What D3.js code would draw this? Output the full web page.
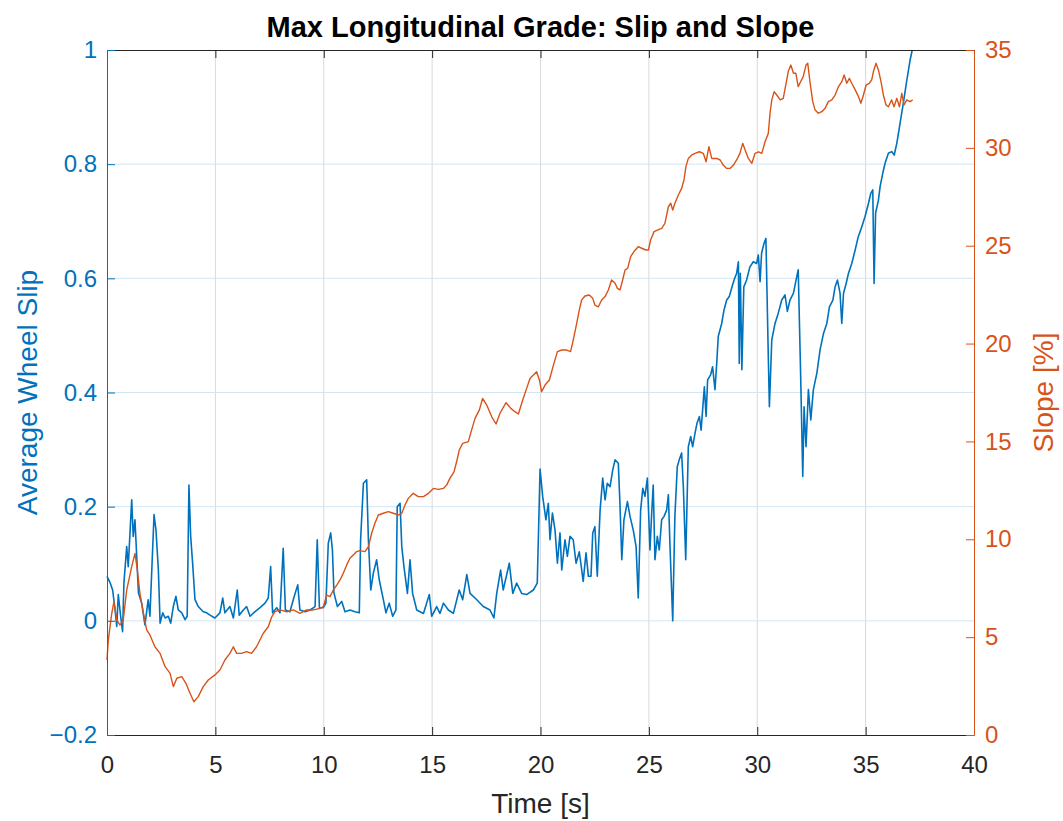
<!DOCTYPE html>
<html>
<head>
<meta charset="utf-8">
<script src="https://cdn.jsdelivr.net/npm/d3@7"></script>
<style>
  body { margin: 0; background: #fff; }
  svg { display: block; font-family: "Liberation Sans", Arial, Helvetica, sans-serif; }
</style>
</head>
<body>
<svg id="chart" width="1063" height="821"></svg>
<script>
// Average wheel slip over time (left axis)
const slipTime = [
  0.00,0.14,0.26,0.37,0.45,0.52,0.63,0.72,0.78,0.91,0.98,1.14,1.21,1.29,1.37,1.45,1.60,1.75,1.90,1.98,
  2.17,2.26,2.37,2.45,2.57,2.68,2.83,2.94,3.06,3.18,3.29,3.45,3.60,3.70,3.78,3.86,3.95,4.06,4.21,4.44,
  4.60,4.75,4.98,5.21,5.34,5.44,5.67,5.83,6.01,6.10,6.29,6.44,6.60,6.83,7.06,7.29,7.44,7.55,7.64,7.83,
  7.98,8.13,8.23,8.44,8.64,8.80,8.90,9.14,9.37,9.60,9.70,9.80,9.98,10.10,10.21,10.32,10.40,10.47,10.63,10.83,
  10.98,11.21,11.44,11.64,11.70,11.83,11.98,12.06,12.17,12.29,12.44,12.56,12.75,12.87,13.02,13.18,13.33,13.39,13.52,13.60,
  13.70,13.86,13.98,14.10,14.29,14.60,14.87,14.98,15.21,15.36,15.52,15.75,15.98,16.25,16.41,16.60,16.75,17.06,17.36,17.67,
  17.85,17.98,18.16,18.28,18.56,18.72,18.90,19.13,19.36,19.67,19.85,19.98,20.10,20.25,20.36,20.44,20.55,20.67,20.78,20.90,
  20.98,21.13,21.24,21.36,21.51,21.64,21.79,21.97,22.10,22.21,22.33,22.41,22.51,22.62,22.75,22.87,22.98,23.08,23.21,23.33,
  23.44,23.59,23.67,23.75,23.85,24.01,24.13,24.28,24.41,24.51,24.62,24.72,24.82,24.93,25.05,25.13,25.20,25.28,25.39,25.48,
  25.59,25.70,25.82,25.90,25.97,26.10,26.20,26.31,26.40,26.51,26.59,26.70,26.82,26.93,27.02,27.13,27.22,27.33,27.41,27.48,
  27.56,27.64,27.71,27.85,27.94,28.05,28.13,28.20,28.36,28.47,28.59,28.71,28.82,28.93,29.05,29.13,29.17,29.22,29.29,29.38,
  29.51,29.66,29.82,29.97,30.05,30.13,30.20,30.31,30.40,30.51,30.56,30.67,30.82,30.97,31.13,31.28,31.39,31.51,31.67,31.79,
  31.89,32.00,32.10,32.16,32.25,32.36,32.47,32.59,32.75,32.90,33.06,33.21,33.33,33.49,33.59,33.70,33.82,33.90,33.98,34.10,
  34.21,34.36,34.52,34.66,34.82,34.97,35.13,35.24,35.33,35.39,35.46,35.59,35.67,35.79,35.90,36.05,36.20,36.32,36.44,36.59,
  36.74,36.90,37.05,37.15
];
const slipValues = [
  0.078,0.067,0.054,0.020,-0.010,0.046,0.008,-0.019,0.066,0.130,0.095,0.212,0.148,0.177,0.113,0.049,0.031,-0.007,0.037,0.008,
  0.186,0.159,0.089,-0.004,0.014,0.005,0.008,-0.004,0.025,0.043,0.019,0.014,0.002,0.008,0.238,0.148,0.101,0.037,0.025,0.016,
  0.014,0.010,0.005,0.014,0.040,0.014,0.025,0.005,0.054,0.010,0.019,0.025,0.008,0.016,0.023,0.031,0.040,0.095,0.014,0.023,
  0.014,0.127,0.019,0.016,0.043,0.063,0.019,0.016,0.019,0.025,0.142,0.023,0.023,0.031,0.136,0.154,0.124,0.049,0.025,0.034,
  0.016,0.019,0.016,0.014,0.142,0.241,0.247,0.142,0.054,0.084,0.107,0.072,0.037,0.014,0.031,0.008,0.019,0.200,0.206,0.130,
  0.095,0.048,0.107,0.048,0.019,0.013,0.046,0.008,0.025,0.013,0.031,0.019,0.013,0.054,0.037,0.081,0.048,0.037,0.025,0.019,
  0.005,0.048,0.089,0.054,0.101,0.048,0.066,0.048,0.046,0.054,0.066,0.266,0.218,0.177,0.206,0.142,0.189,0.159,0.101,0.154,
  0.089,0.142,0.113,0.148,0.142,0.101,0.121,0.069,0.119,0.078,0.078,0.154,0.165,0.078,0.194,0.250,0.212,0.241,0.235,0.264,
  0.282,0.276,0.200,0.107,0.177,0.209,0.183,0.159,0.130,0.040,0.194,0.232,0.218,0.250,0.124,0.189,0.238,0.107,0.148,0.124,
  0.177,0.183,0.194,0.221,0.136,0.000,0.183,0.270,0.282,0.294,0.235,0.107,0.305,0.323,0.305,0.329,0.346,0.358,0.334,0.370,
  0.410,0.358,0.422,0.431,0.445,0.405,0.451,0.498,0.521,0.545,0.562,0.568,0.583,0.597,0.609,0.629,0.451,0.609,0.440,0.585,
  0.597,0.620,0.629,0.626,0.641,0.594,0.644,0.661,0.670,0.463,0.375,0.492,0.521,0.539,0.562,0.571,0.542,0.562,0.574,0.597,
  0.615,0.434,0.253,0.375,0.305,0.405,0.352,0.405,0.434,0.475,0.504,0.521,0.550,0.562,0.585,0.597,0.574,0.521,0.574,0.591,
  0.609,0.626,0.650,0.673,0.690,0.708,0.731,0.749,0.755,0.591,0.714,0.737,0.761,0.784,0.802,0.819,0.822,0.816,0.837,0.872,
  0.907,0.947,0.982,1.000
];

// Road slope over time (right axis, percent)
const slopeTime = [
  0.00,0.06,0.22,0.32,0.45,0.60,0.75,0.91,1.14,1.29,1.40,1.52,1.68,1.83,1.98,2.21,2.45,2.68,2.91,3.06,
  3.22,3.45,3.64,3.83,4.01,4.21,4.44,4.67,4.98,5.21,5.44,5.67,5.83,5.98,6.21,6.44,6.67,6.90,7.21,7.44,
  7.60,7.75,7.98,8.29,8.60,8.90,9.21,9.52,9.83,9.98,10.14,10.29,10.44,10.60,10.75,10.90,11.06,11.21,11.36,11.52,
  11.67,11.90,12.06,12.21,12.36,12.52,12.75,12.98,13.21,13.44,13.60,13.75,13.90,14.13,14.36,14.60,14.83,15.06,15.29,15.52,
  15.67,15.82,16.01,16.13,16.25,16.41,16.67,16.82,16.98,17.18,17.33,17.52,17.75,17.95,18.13,18.41,18.63,18.82,18.98,19.18,
  19.36,19.52,19.67,19.82,19.95,20.05,20.21,20.41,20.60,20.78,20.98,21.21,21.39,21.51,21.67,21.79,21.90,22.05,22.25,22.41,
  22.51,22.67,22.82,22.98,23.13,23.28,23.44,23.55,23.67,23.79,23.90,24.02,24.16,24.31,24.51,24.67,24.87,24.98,25.08,25.24,
  25.39,25.59,25.74,25.90,26.01,26.10,26.20,26.36,26.51,26.62,26.71,26.82,26.98,27.13,27.33,27.51,27.64,27.77,27.90,28.13,
  28.29,28.43,28.59,28.74,28.90,29.05,29.20,29.33,29.44,29.59,29.75,29.90,30.06,30.21,30.36,30.51,30.59,30.67,30.78,30.90,
  31.06,31.20,31.33,31.43,31.55,31.67,31.78,31.89,32.00,32.12,32.25,32.33,32.44,32.56,32.67,32.82,32.98,33.13,33.28,33.44,
  33.59,33.75,33.90,34.01,34.13,34.25,34.36,34.52,34.67,34.78,34.90,35.02,35.17,35.28,35.36,35.48,35.59,35.71,35.82,35.94,
  36.05,36.20,36.31,36.44,36.56,36.67,36.77,36.90,37.05,37.17
];
const slopeValues = [
  3.83,4.85,6.22,6.81,5.88,5.62,5.88,7.41,8.60,9.28,8.43,7.24,6.22,5.37,5.11,4.51,4.17,3.49,3.15,2.47,
  2.90,2.98,2.64,2.13,1.70,1.96,2.47,2.81,3.07,3.32,3.83,4.17,4.51,4.17,4.17,4.26,4.17,4.51,5.20,5.53,
  6.04,6.30,6.39,6.30,6.39,6.22,6.39,6.39,6.47,6.56,7.15,7.07,7.41,7.66,7.92,8.26,8.69,9.03,9.20,9.37,
  9.42,9.37,9.62,10.31,10.82,11.24,11.33,11.41,11.33,11.24,11.33,11.75,12.09,12.35,12.18,12.18,12.35,12.60,12.55,12.60,
  12.77,13.11,13.45,13.96,14.56,14.90,14.99,15.58,16.18,16.61,17.20,16.86,16.26,15.89,16.44,16.98,16.69,16.52,16.40,17.12,
  17.71,18.23,18.39,18.56,18.14,17.54,17.88,18.14,18.91,19.59,19.67,19.67,19.59,20.18,21.03,21.72,22.23,22.43,22.48,22.31,
  21.97,21.88,22.23,22.40,22.74,23.25,23.08,22.82,22.74,23.25,23.76,23.84,24.44,24.70,24.95,24.87,24.78,24.78,25.29,25.72,
  25.80,25.89,26.14,26.99,27.17,26.82,27.17,27.59,27.93,28.36,29.04,29.46,29.64,29.72,29.80,29.72,29.29,30.06,29.46,29.46,
  29.38,29.12,28.95,28.95,29.12,29.38,29.72,30.23,29.89,29.46,29.21,29.72,29.80,29.72,30.31,30.74,31.77,32.45,32.87,32.70,
  32.45,32.53,33.30,33.90,34.23,33.81,33.81,33.13,33.38,33.64,34.23,34.32,33.30,32.36,31.93,31.77,31.85,32.02,32.36,32.45,
  32.70,33.13,33.38,33.72,33.30,33.55,33.30,32.96,32.62,32.28,32.70,33.21,33.30,33.47,33.90,34.32,33.98,33.38,32.70,32.19,
  32.10,32.45,32.10,32.53,32.10,32.79,32.19,32.45,32.36,32.45
];

const timeTicks = [0, 5, 10, 15, 20, 25, 30, 35, 40];
const slipTicks = [-0.2, 0, 0.2, 0.4, 0.6, 0.8, 1];
const slopeTicks = [0, 5, 10, 15, 20, 25, 30, 35];

const BLUE = "#0072BD", ORANGE = "#D95319", DARK = "#262626";
const plot = { left: 107, right: 974, top: 50, bottom: 735 };
const tickLen = 8;
const fontTick = 24, fontLabel = 28, fontTitle = 29;

const svg = d3.select("#chart");

const x = d3.scaleLinear().domain([0, 40]).range([plot.left, plot.right]);
const yL = d3.scaleLinear().domain([-0.2, 1]).range([plot.bottom, plot.top]);
const yR = d3.scaleLinear().domain([0, 35]).range([plot.bottom, plot.top]);

// Grid: vertical lines grey, horizontal lines tinted by the left axis colour
const grid = svg.append("g");
grid.selectAll("line.gx").data(timeTicks.filter(t => t > 0 && t < 40)).join("line")
  .attr("class", "gx")
  .attr("x1", d => x(d)).attr("x2", d => x(d))
  .attr("y1", plot.top).attr("y2", plot.bottom)
  .attr("stroke", "#d9d9d9").attr("stroke-width", 1);
grid.selectAll("line.gy").data(slipTicks.filter(t => t > -0.2 && t < 1)).join("line")
  .attr("class", "gy")
  .attr("x1", plot.left).attr("x2", plot.right)
  .attr("y1", d => yL(d)).attr("y2", d => yL(d))
  .attr("stroke", "#d4e6f3").attr("stroke-width", 1);

// Data lines
const slipLine = d3.line().x((d, i) => x(slipTime[i])).y(d => yL(d));
const slopeLine = d3.line().x((d, i) => x(slopeTime[i])).y(d => yR(d));

svg.append("path").datum(slipValues)
  .attr("d", slipLine).attr("fill", "none")
  .attr("stroke", BLUE).attr("stroke-width", 1.6).attr("stroke-linejoin", "round");
svg.append("path").datum(slopeValues)
  .attr("d", slopeLine).attr("fill", "none")
  .attr("stroke", ORANGE).attr("stroke-width", 1.4).attr("stroke-linejoin", "round");

// Axes
const bottomAxis = d3.axisBottom(x).tickValues(timeTicks).tickFormat(d3.format("d"))
  .tickSizeInner(-tickLen).tickSizeOuter(0).tickPadding(21);
const gB = svg.append("g").attr("transform", `translate(0,${plot.bottom})`).call(bottomAxis);
gB.select(".domain").attr("stroke", DARK);
gB.selectAll(".tick line").attr("stroke", DARK);
gB.selectAll(".tick text").attr("fill", DARK).attr("font-size", fontTick).attr("font-family", null);

const topAxis = d3.axisTop(x).tickValues(timeTicks).tickFormat("")
  .tickSizeInner(-tickLen).tickSizeOuter(0);
const gT = svg.append("g").attr("transform", `translate(0,${plot.top})`).call(topAxis);
gT.select(".domain").attr("stroke", DARK);
gT.selectAll(".tick line").attr("stroke", DARK);

const leftAxis = d3.axisLeft(yL).tickValues(slipTicks)
  .tickFormat(d => d === 0 ? "0" : d === 1 ? "1" : d3.format(".1f")(d))
  .tickSizeInner(-tickLen).tickSizeOuter(0).tickPadding(10);
const gL = svg.append("g").attr("transform", `translate(${plot.left},0)`).call(leftAxis);
gL.select(".domain").attr("stroke", BLUE);
gL.selectAll(".tick line").attr("stroke", BLUE);
gL.selectAll(".tick text").attr("fill", BLUE).attr("font-size", fontTick).attr("font-family", null);

const rightAxis = d3.axisRight(yR).tickValues(slopeTicks).tickFormat(d3.format("d"))
  .tickSizeInner(-tickLen).tickSizeOuter(0).tickPadding(11);
const gR = svg.append("g").attr("transform", `translate(${plot.right},0)`).call(rightAxis);
gR.select(".domain").attr("stroke", ORANGE);
gR.selectAll(".tick line").attr("stroke", ORANGE);
gR.selectAll(".tick text").attr("fill", ORANGE).attr("font-size", fontTick).attr("font-family", null);

// Titles and labels
const midY = (plot.top + plot.bottom) / 2;
svg.append("text")
  .attr("x", (plot.left + plot.right) / 2).attr("y", 37)
  .attr("text-anchor", "middle").attr("font-weight", "bold")
  .attr("font-size", fontTitle).attr("fill", "#000")
  .text("Max Longitudinal Grade: Slip and Slope");

svg.append("text")
  .attr("x", (plot.left + plot.right) / 2).attr("y", 813)
  .attr("text-anchor", "middle").attr("font-size", fontLabel).attr("fill", DARK)
  .text("Time [s]");

svg.append("text")
  .attr("transform", `translate(37,${midY}) rotate(-90)`)
  .attr("text-anchor", "middle").attr("font-size", fontLabel).attr("fill", BLUE)
  .text("Average Wheel Slip");

svg.append("text")
  .attr("transform", `translate(1053,${midY}) rotate(-90)`)
  .attr("text-anchor", "middle").attr("font-size", fontLabel).attr("fill", ORANGE)
  .text("Slope [%]");
</script>
</body>
</html>
